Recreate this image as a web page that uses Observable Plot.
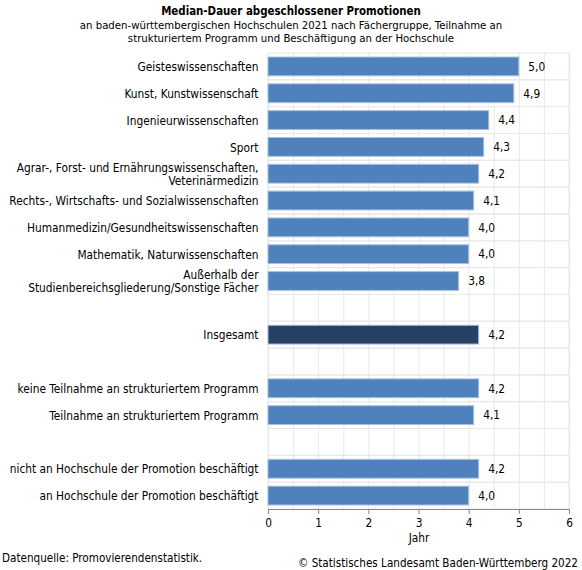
<!DOCTYPE html>
<html><head><meta charset="utf-8">
<script src="https://cdn.jsdelivr.net/npm/d3@7"></script>
<script src="https://cdn.jsdelivr.net/npm/@observablehq/plot@0.6"></script>
<style>
body{margin:0;background:#fff;font-family:"DejaVu Sans Condensed","DejaVu Sans",sans-serif;color:#000}
#wrap{position:relative;width:582px;height:570px;overflow:hidden}
#title{position:absolute;left:0;top:5px;width:582px;text-align:center;font-size:11.3px;line-height:13.5px}
#title b{font-weight:bold;font-size:11.4px}
#chart{position:absolute;left:0;top:45px;line-height:0}
#src{position:absolute;left:2px;top:551px;font-size:11.6px;line-height:14px}
#copy{position:absolute;right:4px;top:556px;font-size:11.6px;line-height:14px}
</style></head>
<body><div id="wrap">
<div id="title"><b>Median-Dauer abgeschlossener Promotionen</b><br>an baden-württembergischen Hochschulen 2021 nach Fächergruppe, Teilnahme an<br>strukturiertem Programm und Beschäftigung an der Hochschule</div>
<div id="chart"></div>
<div id="src">Datenquelle: Promovierendenstatistik.</div>
<div id="copy">© Statistisches Landesamt Baden-Württemberg 2022</div>
</div>
<script>
const labels = [
  "Geisteswissenschaften",
  "Kunst, Kunstwissenschaft",
  "Ingenieurwissenschaften",
  "Sport",
  "Agrar-, Forst- und Ernährungswissenschaften,\nVeterinärmedizin",
  "Rechts-, Wirtschafts- und Sozialwissenschaften",
  "Humanmedizin/Gesundheitswissenschaften",
  "Mathematik, Naturwissenschaften",
  "Außerhalb der\nStudienbereichsgliederung/Sonstige Fächer",
  "",
  "Insgesamt",
  "",
  "keine Teilnahme an strukturiertem Programm",
  "Teilnahme an strukturiertem Programm",
  "",
  "nicht an Hochschule der Promotion beschäftigt",
  "an Hochschule der Promotion beschäftigt"
];
const values = [5.0, 4.9, 4.4, 4.3, 4.2, 4.1, 4.0, 4.0, 3.8, null, 4.2, null, 4.2, 4.1, null, 4.2, 4.0];
const highlight = ["Insgesamt"];
const xTicks = [0, 1, 2, 3, 4, 5, 6];
const gridX = [0, 0.5, 1, 1.5, 2, 2.5, 3, 3.5, 4, 4.5, 5, 5.5, 6];

const rows = labels.map((label, i) => ({id: i, label, value: values[i]}));
const bars = rows.filter(d => d.value != null);

const chart = Plot.plot({
  width: 582,
  height: 501,
  marginLeft: 268,
  marginRight: 13,
  marginTop: 8,
  marginBottom: 37,
  style: {fontFamily: '"DejaVu Sans Condensed","DejaVu Sans",sans-serif', fontSize: "11.8px", color: "#000", background: "#fff"},
  x: {domain: [0, 6]},
  y: {domain: rows.map(d => d.id), padding: 0, round: false},
  marks: [
    Plot.ruleX(gridX, {stroke: "#e8e8e8", strokeOpacity: 1}),
    Plot.barX(rows, {x1: 0, x2: 6, y: "id", fill: "none", stroke: "#e8e8e8", strokeOpacity: 1}),
    Plot.barX(bars, {x: "value", y: "id", fill: d => highlight.includes(d.label) ? "#264163" : "#4f81bd", stroke: "#a8c1e2", strokeWidth: 1, insetTop: 4, insetBottom: 4}),
    Plot.text(bars, {x: "value", y: "id", text: d => d.value.toFixed(1).replace(".", ","), textAnchor: "start", dx: 9, fill: "#000"}),
    Plot.axisY({tickFormat: i => labels[i], tickSize: 0, tickPadding: 10, label: null, lineHeight: 1.12}),
    Plot.axisX({ticks: xTicks, tickFormat: d => String(d), tickSize: 5, tickPadding: 4, stroke: "#888", label: "Jahr", labelAnchor: "center", labelArrow: "none", labelOffset: 32}),
    Plot.frame({anchor: "bottom", stroke: "#888"})
  ]
});
document.getElementById("chart").appendChild(chart);
</script>
</body></html>
